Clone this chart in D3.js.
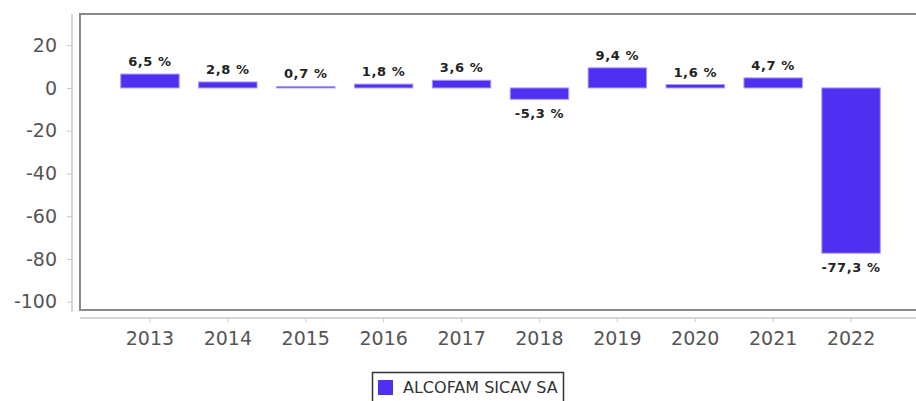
<!DOCTYPE html>
<html>
<head>
<meta charset="utf-8">
<script src="https://cdn.jsdelivr.net/npm/d3@7"></script>
<style>
  body { margin: 0; background: #fff; }
  svg { display: block; font-family: "DejaVu Sans", sans-serif; }
</style>
</head>
<body>
<div id="chart"></div>
<script>
// Data
const years = ["2013", "2014", "2015", "2016", "2017", "2018", "2019", "2020", "2021", "2022"];
const values = [6.5, 2.8, 0.7, 1.8, 3.6, -5.3, 9.4, 1.6, 4.7, -77.3];
const yTicks = [20, 0, -20, -40, -60, -80, -100];
const seriesName = "ALCOFAM SICAV SA";

const W = 916, H = 401;
const barColor = "#5030f0";

const svg = d3.select("#chart")
    .append("svg")
    .attr("width", W)
    .attr("height", H);

// Scales
const x = d3.scaleBand()
    .domain(years)
    .range([111, 890])
    .paddingInner(0.25)
    .paddingOuter(0.125);

const y = d3.scaleLinear()
    .domain([-100, 20])
    .range([301.7, 45.2]);

// Plot frame
svg.append("rect")
    .attr("x", 80)
    .attr("y", 14)
    .attr("width", W)
    .attr("height", 296)
    .attr("fill", "none")
    .attr("stroke", "#8a8a8a")
    .attr("stroke-width", 2);

// Y axis (plain hyphen for negatives, like the original)
const yAxis = svg.append("g")
    .attr("transform", "translate(72,0)")
    .call(d3.axisLeft(y).tickValues(yTicks).tickFormat(d => String(d)).tickSize(5).tickPadding(10));
yAxis.select(".domain").attr("d", "M0,14V312").attr("stroke", "#c8c8c8").attr("stroke-width", 1.5);
yAxis.selectAll(".tick line").attr("stroke", "#c8c8c8");
yAxis.selectAll(".tick text")
    .attr("font-size", 19)
    .attr("font-family", "DejaVu Sans")
    .attr("fill", "#555");

// X axis
const xAxis = svg.append("g")
    .attr("transform", "translate(0,318)")
    .call(d3.axisBottom(x).tickSize(4).tickPadding(10));
xAxis.select(".domain").attr("d", `M80,0H${W}`).attr("stroke", "#c8c8c8").attr("stroke-width", 1.5);
xAxis.selectAll(".tick line").attr("stroke", "#c8c8c8");
xAxis.selectAll(".tick text")
    .attr("font-size", 19)
    .attr("font-family", "DejaVu Sans")
    .attr("fill", "#555");

// Bars
svg.append("g")
    .selectAll("rect")
    .data(values)
    .join("rect")
    .attr("x", (d, i) => x(years[i]))
    .attr("y", d => y(Math.max(0, d)))
    .attr("width", x.bandwidth())
    .attr("height", d => Math.abs(y(d) - y(0)))
    .attr("fill", barColor)
    .attr("stroke", "#a898f6")
    .attr("stroke-width", 1);

// Value labels
svg.append("g")
    .selectAll("text")
    .data(values)
    .join("text")
    .attr("x", (d, i) => x(years[i]) + x.bandwidth() / 2)
    .attr("y", d => d >= 0 ? y(d) - 8 : y(d) + 19)
    .attr("text-anchor", "middle")
    .attr("font-size", 13)
    .attr("font-weight", "bold")
    .attr("letter-spacing", 0.6)
    .attr("fill", "#222")
    .text(d => d.toFixed(1).replace(".", ",") + " %");

// Legend
const legend = svg.append("g");
legend.append("rect")
    .attr("x", 372.5)
    .attr("y", 372.5)
    .attr("width", 191)
    .attr("height", 40)
    .attr("fill", "#fff")
    .attr("stroke", "#333")
    .attr("stroke-width", 1.5);
legend.append("rect")
    .attr("x", 378)
    .attr("y", 380)
    .attr("width", 15)
    .attr("height", 15)
    .attr("fill", barColor);
legend.append("text")
    .attr("x", 403)
    .attr("y", 393)
    .attr("font-size", 16)
    .attr("fill", "#333")
    .text(seriesName);
</script>
</body>
</html>
